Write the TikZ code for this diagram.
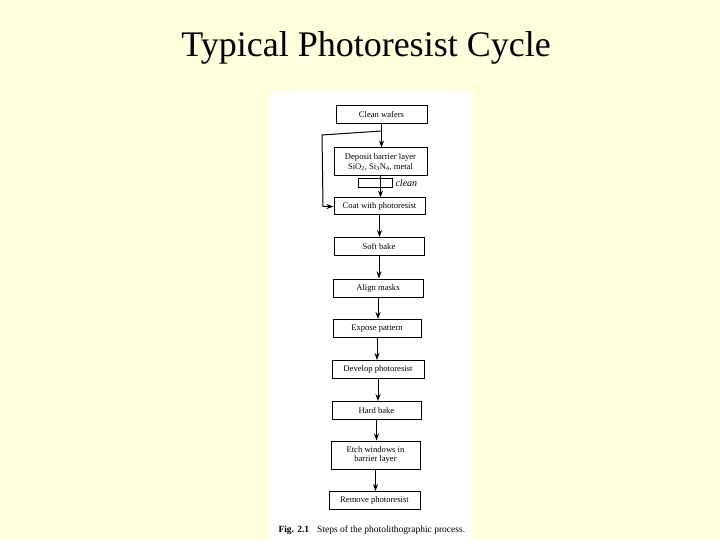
\documentclass[tikz,border=0pt]{standalone}
\usepackage{fontspec}
\setmainfont{Liberation Serif}
\usetikzlibrary{arrows.meta}
\definecolor{slidebg}{HTML}{FFFFDD}
\tikzset{
  stepbox/.style={draw, line width=1pt, minimum width=91pt, minimum height=18pt,
    inner sep=1pt, align=center, font=\fontsize{8.6}{9.6}\selectfont},
  flow/.style={-{Stealth[length=7pt,width=5pt]}, line width=1pt}
}
\begin{document}
\begin{tikzpicture}[x=1pt,y=-1pt]
\useasboundingbox (0,0) rectangle (720,540);
\fill[slidebg] (0,0) rectangle (720,540);
\fill[white] (269,91) rectangle (472,540);
\node[anchor=base] (title) at (366,57) {\fontsize{36}{40}\selectfont Typical Photoresist Cycle};
% process steps
\node[stepbox] (clean) at (381.5,115) {Clean wafers};
\node[stepbox, minimum width=93pt, minimum height=28pt] (deposit) at (380.5,162) {Deposit barrier layer\\SiO\textsubscript{2}, Si\textsubscript{3}N\textsubscript{4}, metal};
\node[stepbox, minimum height=17pt] (coat) at (379.5,206.5) {Coat with photoresist};
\node[stepbox, minimum width=90pt] (soft) at (379,246.5) {Soft bake};
\node[stepbox, minimum width=90pt] (align) at (378,288) {Align masks};
\node[stepbox, minimum width=88pt] (expose) at (377,328.5) {Expose pattern};
\node[stepbox, minimum width=92pt] (develop) at (378,369.5) {Develop photoresist};
\node[stepbox, minimum width=89pt] (hard) at (376.5,410.5) {Hard bake};
\node[stepbox, minimum width=89pt, minimum height=28pt] (etch) at (375.5,455) {Etch windows in\\barrier layer};
\node[stepbox] (remove) at (374.5,500.5) {Remove photoresist};
% hand-added clean step
\node[draw, line width=0.7pt, minimum width=34pt, minimum height=9pt, inner sep=0pt] (cleanmark) at (375,183) {};
\node[anchor=west, inner sep=0pt, xshift=3pt, font=\fontsize{10}{11}\selectfont\itshape] (cleannote) at (cleanmark.east) {clean};
% arrows
\foreach \a/\b in {clean/deposit, deposit/coat, coat/soft, soft/align, align/expose,
  expose/develop, develop/hard, hard/etch, etch/remove}
  \draw[flow] (\a.south) -- (\a.south |- \b.north);
% skip the barrier layer
\coordinate (split) at (381.5,131);
\coordinate (bendtop) at (322,135);
\coordinate (bendlow) at (323,206.5);
\draw[flow] (split) -- (bendtop) -- (bendlow) -- (coat.west);
\node[anchor=base west, font=\fontsize{9.5}{11}\selectfont] (caption) at (275,532)
  {\textbf{Fig. 2.1}\hspace{8pt}Steps of the photolithographic process.};
\end{tikzpicture}
\end{document}
